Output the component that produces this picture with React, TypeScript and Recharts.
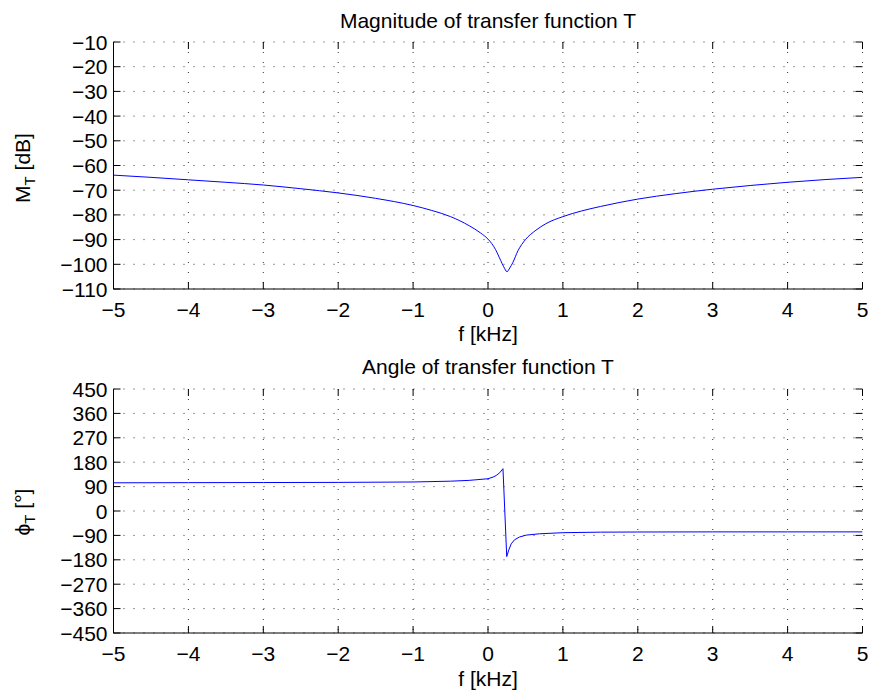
import { LineChart, Line, XAxis, YAxis, CartesianGrid } from "recharts";

// magnitude of T
const magFreq = [-5, -4.5, -4, -3.5, -3, -2.5, -2, -1.5, -1, -0.75, -0.5, -0.25, -0.1, 0, 0.05, 0.1, 0.17, 0.21, 0.254, 0.29, 0.33, 0.4, 0.5, 0.64, 0.77, 1, 1.25, 1.5, 2, 2.5, 3, 3.5, 4, 4.5, 5];
const magDb = [-63.9, -64.8, -65.8, -66.8, -67.9, -69.4, -71.1, -73.3, -76.2, -78.2, -80.7, -84.4, -87.3, -89.8, -91.6, -94, -98.5, -101, -103, -101.5, -99.4, -94.5, -90, -86.2, -83.6, -80.7, -78.4, -76.6, -73.6, -71.4, -69.6, -68.1, -66.8, -65.7, -64.8];

// angle of T
const phFreq = [-5, -4, -3, -2, -1, -0.5, -0.25, 0, 0.067, 0.11, 0.156, 0.2, 0.25, 0.277, 0.31, 0.355, 0.42, 0.51, 0.69, 1, 1.5, 2, 3, 4, 5];
const phDeg = [104, 104.5, 105, 105.5, 107, 110, 113, 119, 125, 131, 141, 156, -168, -144, -121, -106, -96, -89, -84, -80, -78, -77.5, -77, -77, -77];

const xTicks = [-5, -4, -3, -2, -1, 0, 1, 2, 3, 4, 5];
const magTicks = [-110, -100, -90, -80, -70, -60, -50, -40, -30, -20, -10];
const phTicks = [-450, -360, -270, -180, -90, 0, 90, 180, 270, 360, 450];

const magData = magFreq.map((f, i) => ({ f, v: magDb[i] }));
const phData = phFreq.map((f, i) => ({ f, v: phDeg[i] }));

const FONT = "'Liberation Sans', Arial, Helvetica, sans-serif";
const FS = 21;
const LEFT = 113.5;
const RIGHT = 862.5;
const PLOT_W = RIGHT - LEFT;
const TICK = 7;

const fmt = (v: number) => String(v).replace("-", "\u2212");

function makeXTick(plotH: number) {
  return (props: any) => {
    const { x, y, payload } = props;
    return (
      <g>
        <line x1={x} x2={x} y1={y} y2={y - TICK} stroke="#000" />
        <line x1={x} x2={x} y1={y - plotH} y2={y - plotH + TICK} stroke="#000" />
        <text x={x} y={y + 28} textAnchor="middle" fontFamily={FONT} fontSize={FS} fill="#000">
          {fmt(payload.value)}
        </text>
      </g>
    );
  };
}

function YTick(props: any) {
  const { x, y, payload } = props;
  return (
    <g>
      <line x1={x} x2={x + TICK} y1={y} y2={y} stroke="#000" />
      <line x1={x + PLOT_W} x2={x + PLOT_W - TICK} y1={y} y2={y} stroke="#000" />
      <text x={x - 6} y={y + 7.5} textAnchor="end" fontFamily={FONT} fontSize={FS} fill="#000">
        {fmt(payload.value)}
      </text>
    </g>
  );
}

function Panel({
  data,
  yDomain,
  yTicks,
  height,
  top,
  plotH,
  curve,
}: {
  data: { f: number; v: number }[];
  yDomain: [number, number];
  yTicks: number[];
  height: number;
  top: number;
  plotH: number;
  curve: "linear" | "monotone";
}) {
  const xAxisH = height - top - plotH;
  return (
    <LineChart width={870} height={height} data={data} margin={{ top, right: 870 - RIGHT, bottom: 0, left: 0 }}>
      <CartesianGrid stroke="#333" strokeDasharray="1 9" />
      <XAxis
        dataKey="f"
        type="number"
        domain={[-5, 5]}
        ticks={xTicks}
        interval={0}
        height={xAxisH}
        tickSize={0}
        tickMargin={0}
        tickLine={false}
        axisLine={{ stroke: "#000" }}
        tick={makeXTick(plotH)}
        allowDataOverflow
      />
      <XAxis xAxisId="top" orientation="top" type="number" domain={[-5, 5]} height={0} tick={false} tickLine={false} axisLine={{ stroke: "#000" }} />
      <YAxis
        type="number"
        domain={yDomain}
        ticks={yTicks}
        interval={0}
        width={LEFT}
        tickSize={0}
        tickMargin={0}
        tickLine={false}
        axisLine={{ stroke: "#000" }}
        tick={YTick}
        allowDataOverflow
      />
      <YAxis yAxisId="right" orientation="right" type="number" domain={yDomain} width={0} tick={false} tickLine={false} axisLine={{ stroke: "#000" }} />
      <Line type={curve} dataKey="v" stroke="#0000ff" strokeWidth={1} dot={false} isAnimationActive={false} />
    </LineChart>
  );
}

export default function App() {
  return (
    <div style={{ position: "absolute", left: 0, top: 0, width: 870, height: 695, background: "#fff" }}>
      <div style={{ position: "absolute", left: 0, top: 0 }}>
        <Panel data={magData} yDomain={[-110, -10]} yTicks={magTicks} height={345} top={42} plotH={247} curve="monotone" />
      </div>
      <div style={{ position: "absolute", left: 0, top: 345 }}>
        <Panel data={phData} yDomain={[-450, 450]} yTicks={phTicks} height={350} top={44} plotH={244} curve="linear" />
      </div>
      <svg width={870} height={695} style={{ position: "absolute", left: 0, top: 0, pointerEvents: "none" }} fontFamily={FONT} fontSize={FS}>
        <text x={488} y={28} textAnchor="middle">Magnitude of transfer function T</text>
        <text x={488} y={341} textAnchor="middle">f [kHz]</text>
        <text x={488} y={374} textAnchor="middle">Angle of transfer function T</text>
        <text x={488} y={686} textAnchor="middle">f [kHz]</text>
        <text x={30} y={168} textAnchor="middle" transform="rotate(-90 30 168)">
          M<tspan dy={5} fontSize={15}>T</tspan>
          <tspan dy={-5}> [dB]</tspan>
        </text>
        <text x={30} y={512} textAnchor="middle" transform="rotate(-90 30 512)">
          {"\u03D5"}<tspan dy={5} fontSize={15}>T</tspan>
          <tspan dy={-5}> [°]</tspan>
        </text>
      </svg>
    </div>
  );
}
